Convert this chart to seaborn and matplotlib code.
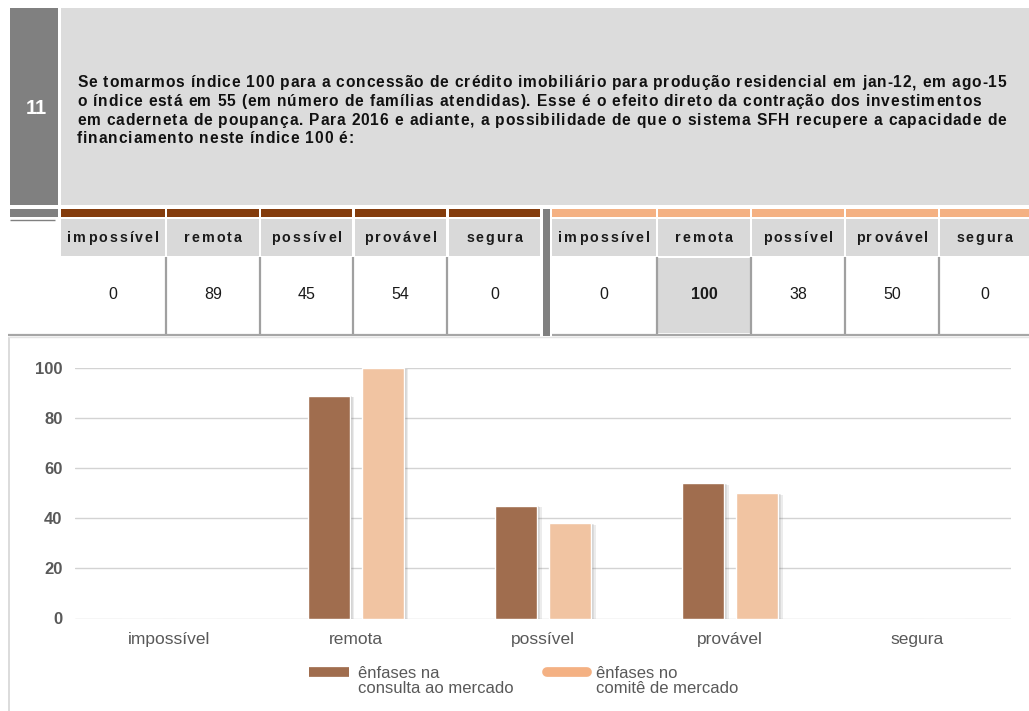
import matplotlib
matplotlib.use("Agg")
import matplotlib.pyplot as plt
import matplotlib.patheffects as pe
from matplotlib.patches import Rectangle
from matplotlib.lines import Line2D
from matplotlib.legend_handler import HandlerLine2D
from matplotlib.font_manager import FontProperties
import pandas as pd
import seaborn as sns

# ---- data -------------------------------------------------------------
categorias = ["impossível", "remota", "possível", "provável", "segura"]
consulta_mercado = [0, 89, 45, 54, 0]
comite_mercado = [0, 100, 38, 50, 0]
series = ["ênfases na\nconsulta ao mercado", "ênfases no\ncomitê de mercado"]
yticks = [0, 20, 40, 60, 80, 100]
destaque_comite = "remota"
numero_questao = "11"
pergunta = [
    "Se tomarmos índice 100 para a concessão de crédito imobiliário para produção residencial em jan-12, em ago-15",
    "o índice está em 55 (em número de famílias atendidas). Esse é o efeito direto da contração dos investimentos",
    "em caderneta de poupança. Para 2016 e adiante, a possibilidade de que o sistema SFH recupere a capacidade de",
    "financiamento neste índice 100 é:",
]

# ---- style ------------------------------------------------------------
MARROM_ESCURO = "#843C0C"
LARANJA_CLARO = "#F4B183"
COR_BARRA_1 = "#A06D4E"
COR_BARRA_2 = "#F1C4A2"
CINZA_ESCURO = "#808080"
CINZA_CLARO = "#DCDCDC"
CINZA_CELULA = "#D9D9D9"
CINZA_TEXTO = "#595959"

sns.set_theme(style="white")
plt.rcParams["font.family"] = ["Liberation Sans", "DejaVu Sans"]

W, H = 1029, 711
fig = plt.figure(figsize=(W / 100, H / 100), dpi=100)
fig.patch.set_facecolor("white")

# full-figure layer in pixel units (y grows downwards)
bg = fig.add_axes([0, 0, 1, 1])
bg.set_xlim(0, W)
bg.set_ylim(H, 0)
bg.axis("off")
renderer = fig.canvas.get_renderer()


def rect(x0, y0, x1, y1, color, z=1):
    bg.add_patch(Rectangle((x0, y0), x1 - x0, y1 - y0, facecolor=color,
                           edgecolor="none", zorder=z))


def hline(y, x0, x1, color, lw=1.0, z=3):
    bg.plot([x0, x1], [y, y], color=color, lw=lw, zorder=z, solid_capstyle="butt")


def vline(x, y0, y1, color, lw=1.0, z=3):
    bg.plot([x, x], [y0, y1], color=color, lw=lw, zorder=z, solid_capstyle="butt")


def text_width(s, fp):
    return renderer.get_text_width_height_descent(s, fp, ismath=False)[0]


def tracked_text(x, y, s, size, weight="normal", color="black", track=0.0,
                 ha="left", z=4):
    """Draw a string with extra letter spacing (track, in pixels)."""
    fp = FontProperties(family=["Liberation Sans"], weight=weight, size=size)
    ref = text_width("x", fp)
    total = text_width(s, fp) + track * (len(s) - 1)
    x0 = x - total / 2 if ha == "center" else x
    for i, ch in enumerate(s):
        if ch == " ":
            continue
        off = (text_width(s[:i] + "x", fp) - ref) if i else 0.0
        bg.text(x0 + off + i * track, y, ch, fontproperties=fp, color=color,
                ha="left", va="baseline", zorder=z)


# ---- question header --------------------------------------------------
rect(10, 8, 58, 205, CINZA_ESCURO)
rect(61, 8, W, 205, CINZA_CLARO)
bg.text(36, 108, numero_questao, color="white", fontsize=14.5, weight="bold",
        ha="center", va="center", zorder=4)
for i, linha in enumerate(pergunta):
    tracked_text(77, 87.3 + i * 18.7, linha, size=11.2, weight="bold",
                 color="#111111", track=0.9)

# ---- answer table -----------------------------------------------------
rect(10, 209, 58, 216.5, CINZA_ESCURO)
hline(219.5, 10, 55, CINZA_ESCURO, lw=1.0)

col_esq = [(61, 165), (167, 259), (261, 352), (355, 446), (449, 540)]
col_dir = [(552, 656), (658, 750), (752, 844), (846, 938), (940, W)]

for cols, valores, cor_faixa, destaque in (
        (col_esq, consulta_mercado, MARROM_ESCURO, None),
        (col_dir, comite_mercado, LARANJA_CLARO, destaque_comite)):
    for j, ((x0, x1), cat, v) in enumerate(zip(cols, categorias, valores)):
        rect(x0, 209, x1, 217, cor_faixa)
        rect(x0, 219, x1, 256, CINZA_CELULA)
        tracked_text((x0 + x1) / 2, 242.3, cat, size=10.3, weight="bold",
                     color="#1A1A1A", track=2.0, ha="center")
        marcado = cat == destaque
        if marcado:
            rect(x0, 258, x1, 333, CINZA_CELULA)
        bg.text((x0 + x1) / 2, 294.5, str(v), fontsize=11.5,
                weight="bold" if marcado else "normal", color="#1A1A1A",
                ha="center", va="center", zorder=4)
        if j < len(cols) - 1:
            vline(x1 + 1, 257, 334, "#A0A0A0", lw=1.6)
    hline(334.5, cols[0][0] if cols is col_dir else 8, cols[-1][1], "#A6A6A6", lw=1.6)

rect(543, 209, 550, 336, CINZA_ESCURO, z=3)

# chart frame
vline(8.5, 337, H, "#D5D5D5", lw=1.2)
hline(337, 8, W, "#E4E4E4", lw=1.0)

# ---- bar chart --------------------------------------------------------
ax_l, ax_r, ax_t, ax_b = 75, 1011, 368, 618.5
ax = fig.add_axes([ax_l / W, (H - ax_b) / H, (ax_r - ax_l) / W, (ax_b - ax_t) / H])
ax.set_facecolor("none")

df = pd.DataFrame({
    "categoria": categorias * 2,
    "série": [series[0]] * len(categorias) + [series[1]] * len(categorias),
    "valor": consulta_mercado + comite_mercado,
})
sns.barplot(data=df, x="categoria", y="valor", hue="série",
            palette=[COR_BARRA_1, COR_BARRA_2], saturation=1,
            width=0.577, gap=0.22, legend=False, ax=ax)

# soft drop shadow on the right side of each bar
sombra = [pe.SimplePatchShadow(offset=(o, -o / 3), shadow_rgbFace="#6E6E6E", alpha=0.13)
          for o in (3.2, 2.2, 1.2)] + [pe.Normal()]
for p in ax.patches:
    p.set_path_effects(sombra)

ax.set_xlim(-0.5, len(categorias) - 0.5)
ax.set_ylim(0, 100)
ax.set_yticks(yticks)
ax.yaxis.grid(True, color="#D3D3D3", lw=1.0)
ax.set_axisbelow(True)
for s in ax.spines.values():
    s.set_visible(False)
ax.set_xlabel("")
ax.set_ylabel("")
ax.tick_params(axis="both", length=0)
ax.tick_params(axis="y", pad=9, labelsize=12, labelcolor=CINZA_TEXTO)
ax.tick_params(axis="x", pad=10, labelsize=12.5, labelcolor=CINZA_TEXTO)
for t in ax.get_yticklabels():
    t.set_fontweight("bold")


class HandlerTopo(HandlerLine2D):
    """Legend key aligned with the first line of a two-line label."""

    def create_artists(self, legend, orig_handle, xdescent, ydescent,
                       width, height, fontsize, trans):
        return super().create_artists(legend, orig_handle, xdescent,
                                      ydescent - 13, width, height, fontsize, trans)


handles = [Line2D([], [], color=COR_BARRA_1, lw=7, solid_capstyle="butt"),
           Line2D([], [], color=LARANJA_CLARO, lw=7, solid_capstyle="round")]
fig.legend(handles, series, loc="center", bbox_to_anchor=(523.5 / W, 1 - 681 / H),
           ncol=2, frameon=False, fontsize=12, labelcolor=CINZA_TEXTO,
           handlelength=2.4, handletextpad=0.55, columnspacing=2.0,
           labelspacing=0.2, handler_map={Line2D: HandlerTopo()})
plt.setp(fig.legends[0].get_texts(), linespacing=1.05)

fig.savefig("out.png", dpi=100, facecolor="white")
